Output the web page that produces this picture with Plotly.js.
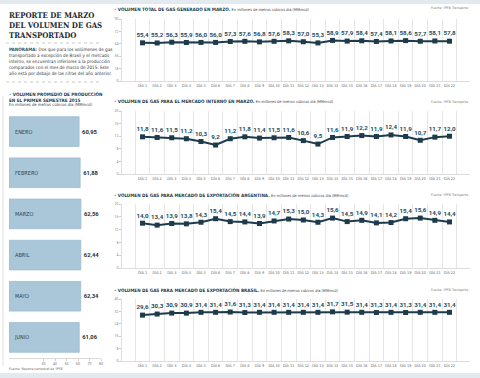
<!DOCTYPE html>
<html><head><meta charset="utf-8">
<script src="https://cdn.plot.ly/plotly-3.0.1.min.js"></script>
<style>html,body{margin:0;padding:0;background:#fff}#chart{width:480px;height:378px}</style>
</head><body><div id="chart"></div>
<script>
const days = ['DÍA 1','DÍA 2','DÍA 3','DÍA 4','DÍA 5','DÍA 6','DÍA 7','DÍA 8','DÍA 9','DÍA 10','DÍA 11','DÍA 12','DÍA 13','DÍA 14','DÍA 15','DÍA 16','DÍA 17','DÍA 18','DÍA 19','DÍA 20','DÍA 21','DÍA 22'];
const totalGas = [55.4,55.2,56.3,55.9,56.0,56.0,57.3,57.6,56.8,57.6,58.3,57.0,55.3,58.9,57.9,58.4,57.4,58.1,58.6,57.7,58.1,57.8];
const mercadoInterno = [11.8,11.6,11.5,11.2,10.3,9.2,11.2,11.8,11.4,11.5,11.6,10.6,9.5,11.6,11.9,12.2,11.9,12.4,11.9,10.7,11.7,12.0];
const exportArgentina = [14.0,13.4,13.9,13.8,14.3,15.4,14.5,14.4,13.9,14.7,15.3,15.0,14.3,15.6,14.5,14.9,14.1,14.2,15.4,15.6,14.9,14.4];
const exportBrasil = [29.6,30.3,30.9,30.9,31.4,31.4,31.6,31.3,31.4,31.4,31.4,31.4,31.4,31.7,31.5,31.4,31.3,31.4,31.3,31.4,31.4,31.4];
const months = ['ENERO','FEBRERO','MARZO','ABRIL','MAYO','JUNIO'];
const promedio = [60.95,61.88,62.56,62.44,62.34,61.06];
const chartTitles = [
  'VOLUMEN TOTAL DE GAS GENERADO EN MARZO.',
  'VOLUMEN DE GAS PARA EL MERCADO INTERNO EN MARZO.',
  'VOLUMEN DE GAS PARA MERCADO DE EXPORTACIÓN ARGENTINA.',
  'VOLUMEN DE GAS PARA MERCADO DE EXPORTACIÓN BRASIL.'
];
const unitText = 'En millones de metros cúbicos día (MMmcd)';
const sourceText = 'Fuente: YPFB Transporte';

const W = 480, H = 378;
const px = x => x / W;
const py = y => 1 - y / H;
const FONT = 'Roboto, "DejaVu Sans Condensed", sans-serif';
const COND = '"DejaVu Sans Condensed", Roboto, sans-serif';
const DARK = '#1d3b4b';
const LABEL = '#1f4a5e';

const series = [totalGas, mercadoInterno, exportArgentina, exportBrasil];
const ranges = [[0, 90], [0, 20], [0, 20], [0, 40]];
const dticks = [18, 4, 4, 8];
const plotTops = [19, 111, 204, 299];
const plotBots = [81, 174, 268, 361];
const titleY = [9, 102, 195, 290];

const data = [];
data.push({
  type: 'bar', orientation: 'h', x: promedio, y: months, xaxis: 'x', yaxis: 'y',
  marker: {color: '#a9c7d9', line: {color: '#9dbdd0', width: 0.8}},
  width: 0.72,
  texttemplate: '<b>%{x:.2f}</b>', textposition: 'outside', cliponaxis: false,
  textfont: {family: FONT, size: 5.8, color: '#1d2f3a'},
  hoverinfo: 'skip'
});
series.forEach((s, i) => {
  const n = i + 2;
  data.push({
    type: 'scatter', mode: 'lines+markers+text', x: days, y: s,
    xaxis: 'x' + n, yaxis: 'y' + n,
    line: {color: DARK, width: 2},
    marker: {symbol: 'square', size: 5, color: DARK},
    texttemplate: '<b>%{y:.1f}</b>', textposition: 'top center', cliponaxis: false,
    textfont: {family: FONT, size: 6.2, color: LABEL},
    hoverinfo: 'skip'
  });
});

const layout = {
  width: W, height: H, margin: {l: 0, r: 0, t: 0, b: 0},
  paper_bgcolor: '#ffffff', plot_bgcolor: 'rgba(0,0,0,0)',
  separators: ',.', showlegend: false,
  font: {family: FONT, color: DARK},
  xaxis: {domain: [px(9), px(101)], range: [0, 80], dtick: 10, anchor: 'y',
    showgrid: false, zeroline: false, showline: true, linecolor: '#cfcfcf', linewidth: 0.8,
    ticks: 'outside', ticklen: 2, tickcolor: '#cfcfcf', tickfont: {size: 3.5, color: '#777'}},
  yaxis: {domain: [py(358), py(111)], type: 'category', categoryarray: months, autorange: 'reversed',
    anchor: 'x', showgrid: false, zeroline: false, showline: false, ticks: '',
    ticklabelposition: 'inside', ticklabelstandoff: 3,
    tickfont: {family: COND, size: 5.5, color: '#2a4555'}},
  annotations: [], shapes: []
};

series.forEach((s, i) => {
  const n = i + 2;
  layout['xaxis' + n] = {domain: [px(122), px(470)], type: 'category', anchor: 'y' + n,
    tickson: 'boundaries', showgrid: true, gridcolor: '#dedede', gridwidth: 0.8,
    showline: true, linecolor: '#d4d4d4', linewidth: 0.8, ticks: '', zeroline: false,
    tickangle: 0, tickfont: {family: COND, size: 3.8, color: '#666'}, ticklabelstandoff: 1};
  layout['yaxis' + n] = {domain: [py(plotBots[i]), py(plotTops[i])], anchor: 'x' + n,
    range: ranges[i], dtick: dticks[i], showgrid: false, zeroline: false,
    showline: true, linecolor: '#d4d4d4', linewidth: 0.8,
    ticks: 'outside', ticklen: 2, tickcolor: '#cccccc',
    tickfont: {size: 3.5, color: '#888'}};
  layout.annotations.push({xref: 'paper', yref: 'paper', x: px(112), y: py(titleY[i]),
    xanchor: 'left', yanchor: 'middle', showarrow: false, align: 'left',
    text: '<span style="color:#3d8fc1">•</span> <b>' + chartTitles[i] + '</b> <span style="font-size:3.9px;color:#444">' + unitText + '</span>',
    font: {family: COND, size: 4.6, color: DARK}});
  layout.annotations.push({xref: 'paper', yref: 'paper', x: px(470), y: py(titleY[i] + (i === 0 ? -1 : 0)),
    xanchor: 'right', yanchor: 'middle', showarrow: false,
    text: sourceText, font: {family: COND, size: 3.4, color: '#777'}});
});

// left panel texts
layout.annotations.push({xref: 'paper', yref: 'paper', x: px(7), y: py(9), xanchor: 'left', yanchor: 'top',
  showarrow: false, align: 'left',
  text: '<b>REPORTE DE MARZO<br>DEL VOLUMEN DE GAS<br>TRANSPORTADO</b>',
  font: {family: '"DejaVu Serif Condensed", "DejaVu Serif", serif', size: 7.8, color: '#1b2a33'}});
layout.annotations.push({xref: 'paper', yref: 'paper', x: px(7), y: py(45), xanchor: 'left', yanchor: 'top',
  showarrow: false, align: 'left',
  text: '<b style="color:#1f5470">PANORAMA:</b> Dos que para los volúmenes de gas<br>transportado a excepción de Brasil y el mercado<br>interno, se encuentran inferiores a la producción<br>comparados con el mes de marzo de 2015. Este<br>año está por debajo de las cifras del año anterior.',
  font: {family: COND, size: 4.6, color: '#333'}});
layout.annotations.push({xref: 'paper', yref: 'paper', x: px(7), y: py(88.5), xanchor: 'left', yanchor: 'top',
  showarrow: false, align: 'left',
  text: '<span style="color:#3d8fc1">•</span> <b>VOLUMEN PROMEDIO DE PRODUCCIÓN<br>EN EL PRIMER SEMESTRE 2015</b>',
  font: {family: COND, size: 4.6, color: DARK}});
layout.annotations.push({xref: 'paper', yref: 'paper', x: px(7), y: py(104), xanchor: 'left', yanchor: 'middle',
  showarrow: false, align: 'left', text: unitText,
  font: {family: COND, size: 4.2, color: '#444'}});
layout.annotations.push({xref: 'paper', yref: 'paper', x: px(7), y: py(369), xanchor: 'left', yanchor: 'middle',
  showarrow: false, align: 'left', text: 'Fuente: Reporte semestral de YPFB',
  font: {family: COND, size: 3.4, color: '#666'}});

// decorative shapes
layout.shapes.push({type: 'rect', xref: 'paper', yref: 'paper', x0: 0, x1: 1, y0: py(4), y1: 1,
  fillcolor: '#e2e9ef', line: {width: 0}});
layout.shapes.push({type: 'rect', xref: 'paper', yref: 'paper', x0: 0, x1: 1, y0: 0, y1: py(373),
  fillcolor: '#e2e9ef', line: {width: 0}});
[43, 82].forEach(yy => layout.shapes.push({type: 'line', xref: 'paper', yref: 'paper',
  x0: px(6), x1: px(102), y0: py(yy), y1: py(yy), line: {color: '#bbbbbb', width: 0.8, dash: 'dot'}}));
layout.shapes.push({type: 'line', xref: 'paper', yref: 'paper', x0: px(3), x1: px(3), y0: py(96), y1: py(366),
  line: {color: '#d8d8d8', width: 0.8}});

Plotly.newPlot('chart', data, layout, {staticPlot: true, displayModeBar: false});
</script></body></html>
